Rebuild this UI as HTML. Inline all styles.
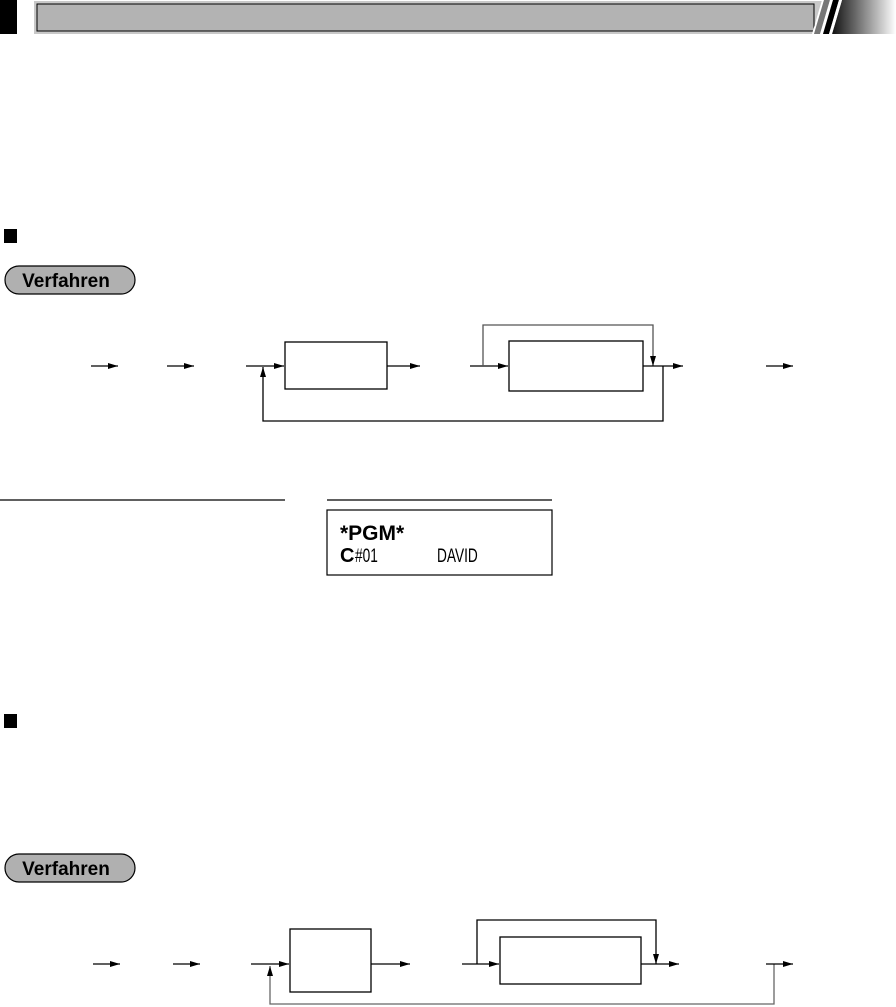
<!DOCTYPE html>
<html><head><meta charset="utf-8"><style>
html,body{margin:0;padding:0;background:#fff;width:896px;height:1007px;overflow:hidden}
svg{display:block}
</style></head><body>
<svg width="896" height="1007" viewBox="0 0 896 1007" xmlns="http://www.w3.org/2000/svg">
<defs>
<linearGradient id="g" x1="0" x2="1" y1="0" y2="0">
<stop offset="0" stop-color="#111"/><stop offset="1" stop-color="#fff"/></linearGradient>
<marker id="a" markerWidth="10" markerHeight="6" refX="10" refY="3" orient="auto" markerUnits="userSpaceOnUse">
<path d="M0,0 L10,3 L0,6 Z" fill="#000"/></marker>
</defs>
<!-- header -->
<rect x="0" y="0" width="17" height="34" fill="#000"/>
<rect x="34" y="1" width="800" height="33" fill="#c8c8c8"/>
<rect x="37" y="4" width="777" height="27" fill="#b3b3b3" stroke="#000" stroke-width="1"/>
<polygon points="842,0 896,0 896,34 832,34" fill="url(#g)"/>
<polygon points="822,0 824,0 814,34 812,34" fill="#fff"/>
<polygon points="824,0 830,0 820,34 814,34" fill="#777"/>
<polygon points="830,0 833,0 823,34 820,34" fill="#fff"/>
<polygon points="833,0 839,0 829,34 823,34" fill="#000"/>
<polygon points="839,0 842,0 832,34 829,34" fill="#fff"/>

<!-- section 1 -->
<rect x="4" y="229" width="13" height="14" fill="#000"/>
<rect x="5" y="266" width="130" height="28" rx="14" fill="#b0b0b0" stroke="#000" stroke-width="1.2"/>
<text x="66" y="287" text-anchor="middle" font-family="Liberation Sans, sans-serif" font-weight="bold" font-size="19">Verfahren</text>

<g stroke="#000" stroke-width="1.3" fill="none">
<line x1="91" y1="366" x2="118" y2="366" marker-end="url(#a)"/>
<line x1="167" y1="366" x2="194" y2="366" marker-end="url(#a)"/>
<line x1="246" y1="366" x2="284" y2="366" marker-end="url(#a)"/>
<rect x="285" y="342" width="102" height="47"/>
<line x1="387" y1="366" x2="420" y2="366" marker-end="url(#a)"/>
<line x1="470" y1="366" x2="508" y2="366" marker-end="url(#a)"/>
<rect x="509" y="341" width="134" height="50"/>
<polyline points="483,366 483,325 653,325 653,366" marker-end="url(#a)" stroke="#555"/>
<line x1="643" y1="366" x2="683" y2="366" marker-end="url(#a)"/>
<polyline points="663,366 663,421 263,421 263,367" marker-end="url(#a)"/>
<line x1="766" y1="366" x2="793" y2="366" marker-end="url(#a)"/>
</g>

<line x1="0" y1="500" x2="285" y2="500" stroke="#000" stroke-width="1.2"/>
<line x1="327" y1="500" x2="552" y2="500" stroke="#000" stroke-width="1.2"/>
<rect x="327" y="510" width="225" height="65" fill="none" stroke="#000" stroke-width="1.2"/>
<text x="340" y="540" font-family="Liberation Sans, sans-serif" font-weight="bold" font-size="21">*PGM*</text>
<text x="340" y="562" font-family="Liberation Sans, sans-serif" font-weight="bold" font-size="20">C</text>
<text x="355" y="562" font-family="Liberation Sans, sans-serif" font-size="19" transform="translate(355 0) scale(0.72 1) translate(-355 0)">#01</text>
<text x="437" y="562" font-family="Liberation Sans, sans-serif" font-size="19" transform="translate(437 0) scale(0.72 1) translate(-437 0)">DAVID</text>

<!-- section 2 -->
<rect x="4" y="714" width="13" height="14" fill="#000"/>
<rect x="5" y="854" width="130" height="28" rx="14" fill="#b0b0b0" stroke="#000" stroke-width="1.2"/>
<text x="66" y="875" text-anchor="middle" font-family="Liberation Sans, sans-serif" font-weight="bold" font-size="19">Verfahren</text>

<g stroke="#000" stroke-width="1.3" fill="none">
<line x1="93" y1="964" x2="120" y2="964" marker-end="url(#a)"/>
<line x1="173" y1="964" x2="200" y2="964" marker-end="url(#a)"/>
<line x1="251" y1="964" x2="289" y2="964" marker-end="url(#a)"/>
<rect x="290" y="929" width="81" height="63"/>
<line x1="371" y1="964" x2="410" y2="964" marker-end="url(#a)"/>
<line x1="462" y1="964" x2="499" y2="964" marker-end="url(#a)"/>
<rect x="500" y="937" width="141" height="47"/>
<polyline points="477,964 477,920 656,920 656,964" marker-end="url(#a)"/>
<line x1="641" y1="964" x2="679" y2="964" marker-end="url(#a)"/>
<polyline points="774,964 774,1004 270,1004 270,966" marker-end="url(#a)" stroke="#666"/>
<line x1="766" y1="964" x2="793" y2="964" marker-end="url(#a)"/>
</g>
</svg>
</body></html>
